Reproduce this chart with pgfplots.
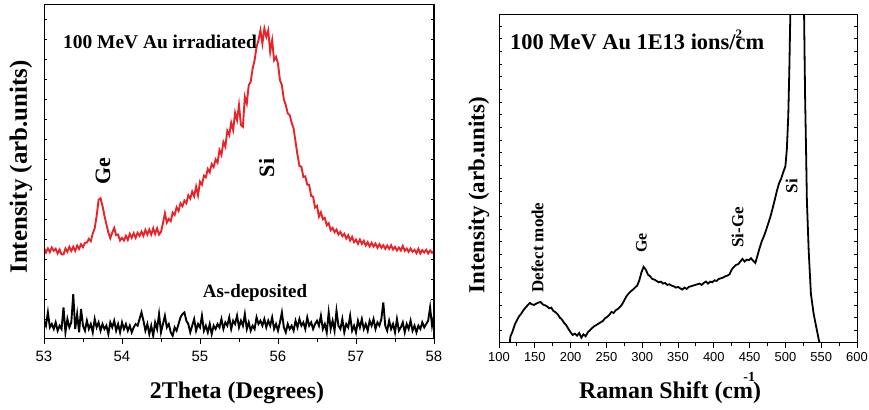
\documentclass[border=0pt]{standalone}
\usepackage{pgfplots}
\pgfplotsset{compat=1.18}
\usepackage{fontspec}
\setmainfont{Liberation Serif}
\newfontfamily\arial{Liberation Sans}
\definecolor{myred}{RGB}{235,35,40}
\newcommand{\fs}[1]{\fontsize{#1}{#1}\selectfont}
\begin{document}
\begin{tikzpicture}
\path[use as bounding box] (0,0) rectangle (869bp,410bp);
% ---------------- LEFT PANEL ----------------
\begin{axis}[at={(44bp,71bp)}, anchor=south west, width=390bp, height=334bp, scale only axis,
  xmin=53, xmax=58, ymin=0, ymax=1004,
  xtick={53,54,55,56,57,58}, minor x tick num=1, ytick=\empty,
  tick align=outside, xtick pos=bottom,
  major tick length=5bp, minor tick length=3bp,
  axis line style={line width=1bp}, tick style={line width=1bp, black},
  xticklabel style={font=\arial\fs{15}, yshift=-4bp},
  /pgf/number format/assume math mode=true,
  clip=true]
\addplot[myred, line width=1.9bp] coordinates {
(53.000,274)(53.025,260)(53.050,272)(53.075,261)(53.100,275)(53.125,265)(53.150,271)(53.175,257)(53.200,269)(53.225,254)
(53.250,254)(53.275,272)(53.300,262)(53.325,277)(53.350,265)(53.375,277)(53.400,265)(53.425,281)(53.450,271)(53.475,285)
(53.500,276)(53.525,289)(53.550,290)(53.575,301)(53.600,294)(53.625,317)(53.650,333)(53.675,370)(53.700,418)(53.725,423)
(53.750,400)(53.775,370)(53.800,345)(53.825,320)(53.850,303)(53.875,320)(53.900,334)(53.925,312)(53.950,314)(53.975,296)
(54.000,304)(54.025,296)(54.050,310)(54.075,298)(54.100,316)(54.125,304)(54.150,318)(54.175,304)(54.200,319)(54.225,310)
(54.250,323)(54.275,310)(54.300,328)(54.325,314)(54.350,329)(54.375,314)(54.400,333)(54.425,316)(54.450,333)(54.475,314)
(54.500,322)(54.525,348)(54.550,378)(54.575,350)(54.600,361)(54.625,354)(54.650,380)(54.675,373)(54.700,396)(54.725,385)
(54.750,408)(54.775,399)(54.800,416)(54.825,408)(54.850,432)(54.875,422)(54.900,443)(54.925,429)(54.950,458)(54.975,432)
(55.000,473)(55.025,464)(55.050,491)(55.075,486)(55.100,511)(55.125,501)(55.150,526)(55.175,517)(55.200,540)(55.225,530)
(55.250,568)(55.275,553)(55.300,592)(55.325,578)(55.350,626)(55.375,613)(55.400,650)(55.425,628)(55.450,680)(55.475,658)
(55.500,703)(55.525,643)(55.550,638)(55.575,728)(55.600,708)(55.625,763)(55.650,773)(55.675,813)(55.700,838)(55.725,878)
(55.750,898)(55.775,928)(55.800,888)(55.825,933)(55.850,908)(55.875,928)(55.900,863)(55.925,898)(55.950,838)(55.975,848)
(56.000,828)(56.025,778)(56.050,763)(56.075,720)(56.100,703)(56.125,678)(56.150,673)(56.175,650)(56.200,633)(56.225,593)
(56.250,553)(56.275,520)(56.300,518)(56.325,487)(56.350,489)(56.375,464)(56.400,463)(56.425,430)(56.450,428)(56.475,395)
(56.500,400)(56.525,368)(56.550,381)(56.575,360)(56.600,364)(56.625,342)(56.650,348)(56.675,327)(56.700,334)(56.725,321)
(56.750,329)(56.775,314)(56.800,322)(56.825,309)(56.850,316)(56.875,302)(56.900,312)(56.925,296)(56.950,307)(56.975,291)
(57.000,299)(57.025,286)(57.050,299)(57.075,286)(57.100,295)(57.125,281)(57.150,291)(57.175,278)(57.200,289)(57.225,278)
(57.250,287)(57.275,274)(57.300,285)(57.325,274)(57.350,282)(57.375,271)(57.400,281)(57.425,271)(57.450,282)(57.475,269)
(57.500,277)(57.525,266)(57.550,275)(57.575,266)(57.600,280)(57.625,265)(57.650,272)(57.675,262)(57.700,272)(57.725,262)
(57.750,268)(57.775,258)(57.800,271)(57.825,257)(57.850,267)(57.875,260)(57.900,268)(57.925,257)(57.950,266)(57.975,259)
(58.000,265)};
\addplot[black, line width=1.9bp] coordinates {
(53.000,55)(53.025,40)(53.050,80)(53.075,35)(53.100,45)(53.125,30)(53.150,50)(53.175,25)(53.200,40)(53.225,30)
(53.250,95)(53.275,20)(53.300,60)(53.325,35)(53.350,50)(53.375,135)(53.400,30)(53.425,75)(53.450,20)(53.475,90)
(53.500,40)(53.525,25)(53.550,55)(53.575,30)(53.600,45)(53.625,20)(53.650,60)(53.675,35)(53.700,50)(53.725,25)
(53.750,45)(53.775,30)(53.800,40)(53.825,15)(53.850,50)(53.875,35)(53.900,55)(53.925,25)(53.950,45)(53.975,20)
(54.000,50)(54.025,30)(54.050,45)(54.075,25)(54.100,40)(54.125,20)(54.150,35)(54.175,45)(54.200,40)(54.225,60)
(54.250,80)(54.275,55)(54.300,25)(54.325,45)(54.350,15)(54.375,40)(54.400,10)(54.425,50)(54.450,30)(54.475,75)
(54.500,20)(54.525,45)(54.550,70)(54.575,35)(54.600,45)(54.625,20)(54.650,10)(54.675,35)(54.700,25)(54.725,45)
(54.750,65)(54.775,75)(54.800,80)(54.825,55)(54.850,45)(54.875,20)(54.900,40)(54.925,60)(54.950,25)(54.975,45)
(55.000,35)(55.025,70)(55.050,25)(55.075,40)(55.100,20)(55.125,45)(55.150,15)(55.175,40)(55.200,30)(55.225,45)
(55.250,35)(55.275,60)(55.300,30)(55.325,50)(55.350,40)(55.375,65)(55.400,30)(55.425,55)(55.450,45)(55.475,70)
(55.500,35)(55.525,55)(55.550,40)(55.575,75)(55.600,30)(55.625,50)(55.650,25)(55.675,40)(55.700,30)(55.725,65)
(55.750,45)(55.775,55)(55.800,40)(55.825,60)(55.850,35)(55.875,55)(55.900,40)(55.925,65)(55.950,30)(55.975,45)
(56.000,25)(56.025,50)(56.050,80)(56.075,35)(56.100,20)(56.125,45)(56.150,30)(56.175,40)(56.200,25)(56.225,55)
(56.250,35)(56.275,60)(56.300,40)(56.325,50)(56.350,30)(56.375,65)(56.400,40)(56.425,50)(56.450,30)(56.475,45)
(56.500,55)(56.525,40)(56.550,70)(56.575,30)(56.600,45)(56.625,20)(56.650,80)(56.675,30)(56.700,55)(56.725,25)
(56.750,85)(56.775,40)(56.800,30)(56.825,60)(56.850,20)(56.875,45)(56.900,35)(56.925,70)(56.950,25)(56.975,40)
(57.000,20)(57.025,55)(57.050,35)(57.075,60)(57.100,30)(57.125,45)(57.150,25)(57.175,55)(57.200,40)(57.225,60)
(57.250,30)(57.275,50)(57.300,40)(57.325,60)(57.350,110)(57.375,40)(57.400,25)(57.425,55)(57.450,30)(57.475,45)
(57.500,20)(57.525,60)(57.550,25)(57.575,35)(57.600,50)(57.625,20)(57.650,45)(57.675,30)(57.700,55)(57.725,25)
(57.750,40)(57.775,20)(57.800,40)(57.825,30)(57.850,50)(57.875,35)(57.900,45)(57.925,55)(57.950,95)(57.975,40)
(58.000,70)};
\end{axis}
\begin{axis}[at={(44bp,71bp)}, anchor=south west, width=390bp, height=334bp, scale only axis,
  xmin=53, xmax=58, ymin=0, ymax=1004, xtick=\empty,
  ytick={60,120,...,1000}, yticklabels={}, tick align=inside, ytick pos=both,
  major tick length=3bp, axis line style={line width=1bp}, tick style={line width=0.8bp, black}]
\end{axis}
% ---------------- RIGHT PANEL ----------------
\begin{axis}[at={(499bp,67bp)}, anchor=south west, width=358bp, height=328bp, scale only axis,
  xmin=100, xmax=600, ymin=0, ymax=983,
  xtick={100,150,...,600}, minor x tick num=1, ytick=\empty,
  tick align=outside, xtick pos=bottom,
  major tick length=5bp, minor tick length=3bp,
  axis line style={line width=1bp}, tick style={line width=1bp, black},
  xticklabel style={font=\arial\fs{13}, yshift=-1bp},
  /pgf/number format/assume math mode=true,
  clip=true]
\addplot[black, line width=1.8bp] coordinates {
(114,-20)(116,20)(119,35)(122,55)(125,68)(128,80)(131,88)(134,98)(137,106)(140,113)
(143,120)(146,116)(149,114)(152,118)(155,121)(158,123)(161,116)(164,113)(167,110)(170,104)
(173,106)(176,96)(179,92)(182,86)(185,76)(188,70)(191,60)(194,53)(197,42)(200,32)
(203,24)(206,28)(209,22)(212,30)(215,16)(218,26)(221,20)(224,32)(227,38)(230,45)
(233,50)(236,54)(239,58)(242,62)(245,66)(248,74)(251,78)(254,84)(257,93)(260,90)
(263,98)(266,102)(269,108)(272,116)(275,128)(278,140)(281,148)(284,155)(287,160)(290,166)
(293,172)(296,188)(299,212)(302,228)(305,220)(308,205)(311,200)(314,192)(317,190)(320,186)
(323,182)(326,184)(329,178)(332,180)(335,174)(338,176)(341,172)(344,170)(347,166)(350,168)
(353,164)(356,160)(359,166)(362,162)(365,168)(368,170)(371,172)(374,174)(377,176)(380,178)
(383,174)(386,180)(389,184)(392,178)(395,184)(398,182)(401,188)(404,186)(407,192)(410,194)
(413,196)(416,200)(419,202)(422,206)(425,220)(428,228)(431,234)(434,236)(437,244)(440,252)
(443,244)(446,250)(449,248)(452,254)(455,246)(458,240)(461,262)(464,285)(467,305)(470,320)
(473,338)(476,358)(479,378)(482,402)(485,428)(488,455)(491,478)(494,492)(497,512)(500,530)
(502,580)(504,680)(505.5,820)(507,1000)(508.5,1200)(524,1200)(526,1000)(527.5,740)(529,560)(530,428)
(532.5,278)(535.6,148)(539.4,88)(544,38)(549,-15)};
\end{axis}
\begin{axis}[at={(499bp,67bp)}, anchor=south west, width=358bp, height=328bp, scale only axis,
  xmin=100, xmax=600, ymin=0, ymax=983, xtick=\empty,
  ytick={38,76,...,970}, yticklabels={}, tick align=inside, ytick pos=both,
  major tick length=3bp, axis line style={line width=1bp}, tick style={line width=0.6bp, black}]
\end{axis}
% ---------------- TEXT ----------------
\begin{scope}[every node/.style={inner sep=0pt, font=\bfseries}]
\node[anchor=west, font=\bfseries\fs{19.5}] at (63bp,368bp) {100 MeV Au irradiated};
\node[rotate=90, font=\bfseries\fs{22}] at (103bp,239bp) {Ge};
\node[rotate=90, font=\bfseries\fs{22}] at (266.5bp,242bp) {Si};
\node[font=\bfseries\fs{19}] at (255bp,117.5bp) {As-deposited};
\node[font=\bfseries\fs{24}] at (237bp,17bp) {2Theta (Degrees)};
\node[rotate=90, font=\bfseries\fs{25}] at (21bp,243bp) {Intensity (arb.units)};
\node[anchor=west, font=\bfseries\fs{22.5}] at (510bp,370bp) {100 MeV Au 1E13 ions/\rlap{\raisebox{0.5em}{\fs{13}2}}cm};
\node[rotate=90, font=\bfseries\fs{17}] at (537.5bp,162.5bp) {Defect mode};
\node[rotate=90, font=\bfseries\fs{16}] at (641.5bp,167bp) {Ge};
\node[rotate=90, font=\bfseries\fs{17}] at (737.5bp,182.5bp) {Si-Ge};
\node[rotate=90, font=\bfseries\fs{17}] at (791.5bp,224bp) {Si};
\node[font=\bfseries\fs{24}] at (670bp,22bp) {Raman Shift (cm\rlap{\kern-0.4em\raisebox{0.7em}{\fs{14}-1}})};
\node[rotate=90, font=\bfseries\fs{23}] at (479bp,215bp) {Intensity (arb.units)};
\end{scope}
\end{tikzpicture}
\end{document}
